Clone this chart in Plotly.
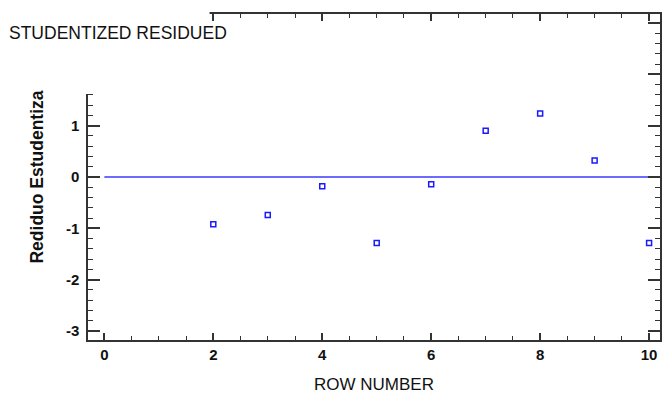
import plotly.graph_objects as go

row_number = [2, 3, 4, 5, 6, 7, 8, 9, 10]
studentized = [-0.92, -0.74, -0.18, -1.29, -0.14, 0.90, 1.24, 0.32, -1.29]
zero_x = [0, 10]
zero_y = [0, 0]

y_tickvals = [-3, -2, -1, 0, 1, 2, 3]
y_ticktext = ["-3", "-2", "-1", "0", "1", "", ""]

title_text = "STUDENTIZED RESIDUED"
x_title = "ROW NUMBER"
y_title = "Rediduo Estudentiza"

regf = "Liberation Sans, Arial, sans-serif"

fig = go.Figure()
fig.add_trace(go.Scatter(x=zero_x, y=zero_y, mode="lines",
                         line=dict(color="#3a3aff", width=1.5), hoverinfo="skip"))
fig.add_trace(go.Scatter(x=row_number, y=studentized, mode="markers",
                         marker=dict(symbol="square-open", size=5, color="#1a1aff",
                                     line=dict(width=1.5, color="#1a1aff"))))

axis_common = dict(showline=True, linecolor="#333333", linewidth=1.5, mirror="allticks",
                   ticks="inside", tickcolor="#333333", tickwidth=1.5, showgrid=False,
                   zeroline=False,
                   tickfont=dict(family=regf, size=15, color="#111111", weight="bold"))

fig.update_xaxes(range=[-0.3, 10.2], dtick=2, tick0=0, ticklen=7,
                 minor=dict(dtick=0.5, ticks="inside", ticklen=4, tickcolor="#333333", tickwidth=1.2),
                 title=dict(text=x_title, font=dict(family=regf, size=17, color="#111111"), standoff=16),
                 **axis_common)
fig.update_yaxes(range=[-3.18, 3.18], tickmode="array", tickvals=y_tickvals, ticktext=y_ticktext,
                 ticklen=12, ticklabelstandoff=4,
                 minor=dict(dtick=0.2, ticks="inside", ticklen=5, tickcolor="#333333", tickwidth=1.2),
                 title=dict(text=y_title, font=dict(family=regf, size=17.5, color="#111111", weight="bold"), standoff=18),
                 **axis_common)

fig.add_shape(type="rect", xref="paper", yref="paper", x0=-0.5, x1=(210 - 88) / 574,
              y0=(340 - 94) / 326, y1=1.2, fillcolor="white", line=dict(width=0), layer="above")

fig.add_annotation(text=title_text, xref="paper", yref="paper", x=(7 - 88) / 574, y=(340 - 33) / 326,
                   xanchor="left", yanchor="middle", showarrow=False,
                   font=dict(family=regf, size=17.5, color="#111111"))

fig.update_layout(width=664, height=398, margin=dict(l=88, r=2, t=14, b=58),
                  plot_bgcolor="white", paper_bgcolor="white", showlegend=False)

fig.write_html("out.html")
